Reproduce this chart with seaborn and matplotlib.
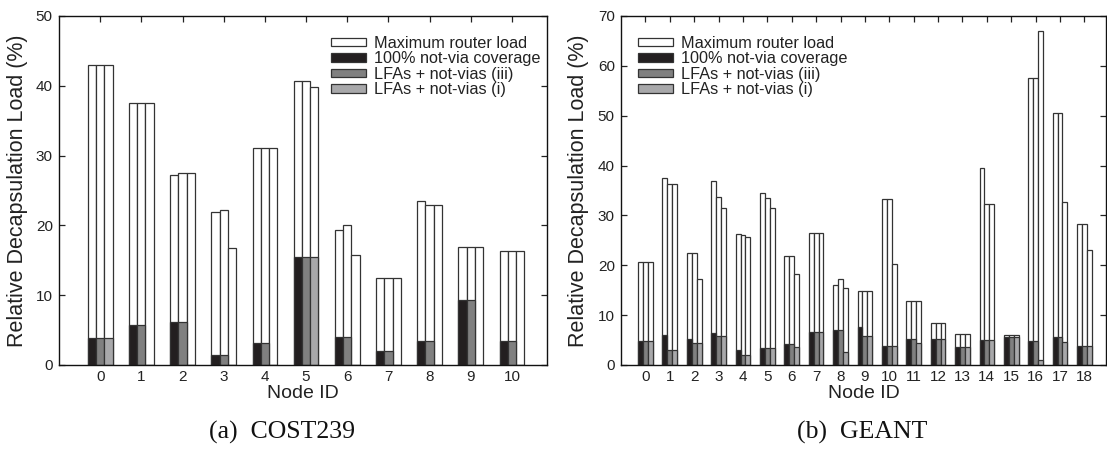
import matplotlib
matplotlib.use("Agg")
import matplotlib.pyplot as plt
from matplotlib.patches import Patch
import seaborn as sns
import pandas as pd

# ---- data -------------------------------------------------------------
series = ["100% not-via coverage", "LFAs + not-vias (iii)", "LFAs + not-vias (i)"]
fill_colors = ["#231f20", "#808080", "#a8a8aa"]

cost_nodes = [str(i) for i in range(11)]
cost_max_nv = [43.0, 37.6, 27.2, 21.9, 31.1, 40.7, 19.4, 12.5, 23.5, 16.95, 16.3]
cost_max_iii = [43.0, 37.6, 27.5, 22.2, 31.1, 40.7, 20.0, 12.5, 22.9, 16.95, 16.3]
cost_max_i = [43.0, 37.6, 27.5, 16.8, 31.1, 39.8, 15.8, 12.5, 22.9, 16.95, 16.3]
cost_dec_nv = [3.8, 5.7, 6.2, 1.5, 3.1, 15.4, 4.0, 2.0, 3.5, 9.3, 3.5]
cost_dec_iii = [3.8, 5.7, 6.2, 1.5, 3.1, 15.4, 4.0, 2.0, 3.5, 9.3, 3.5]
cost_dec_i = [3.8, 0, 0, 0, 0, 15.4, 0, 0, 0, 0, 0]

geant_nodes = [str(i) for i in range(19)]
geant_max_nv = [20.7, 37.6, 22.5, 36.9, 26.2, 34.5, 21.9, 26.5, 16.1, 14.8,
                33.3, 12.85, 8.5, 6.2, 39.6, 6.1, 57.6, 50.6, 28.2]
geant_max_iii = [20.7, 36.4, 22.5, 33.6, 26.1, 33.4, 21.9, 26.5, 17.3, 14.8,
                 33.3, 12.85, 8.5, 6.2, 32.2, 6.1, 57.6, 50.6, 28.2]
geant_max_i = [20.7, 36.3, 17.2, 31.4, 25.6, 31.5, 18.2, 26.4, 15.5, 14.8,
               20.2, 12.85, 8.5, 6.2, 32.2, 6.1, 67.0, 32.7, 23.0]
geant_dec_nv = [4.9, 6.0, 5.15, 6.4, 3.1, 3.35, 4.15, 6.6, 6.95, 7.6,
                3.9, 5.3, 5.15, 3.55, 4.95, 5.6, 4.8, 5.6, 3.9]
geant_dec_iii = [4.75, 3.1, 4.5, 5.9, 2.1, 3.35, 4.15, 6.55, 6.95, 5.75,
                 3.9, 5.3, 5.15, 3.55, 4.95, 5.55, 4.8, 5.6, 3.9]
geant_dec_i = [4.75, 3.1, 4.5, 5.9, 2.1, 3.35, 3.6, 6.55, 2.7, 5.75,
               3.9, 4.5, 5.15, 3.55, 4.95, 5.55, 1.1, 4.55, 3.9]


def long_form(nodes, a, b, c):
    rows = []
    for s, vals in zip(series, (a, b, c)):
        for n, v in zip(nodes, vals):
            rows.append({"node": n, "series": s, "value": v})
    return pd.DataFrame(rows)


# ---- style ------------------------------------------------------------
sns.set_style("ticks")
plt.rcParams["font.family"] = ["Liberation Sans", "DejaVu Sans"]
plt.rcParams["axes.linewidth"] = 1.0
plt.rcParams["text.color"] = "#222222"
plt.rcParams["axes.labelcolor"] = "#222222"
plt.rcParams["xtick.color"] = "#222222"
plt.rcParams["ytick.color"] = "#222222"

EDGE = "#333333"
LW = 0.9

fig = plt.figure(figsize=(11.07, 4.49), dpi=100)
ax1 = fig.add_axes([0.0533, 0.1871, 0.4408, 0.7773])
ax2 = fig.add_axes([0.5610, 0.1871, 0.4380, 0.7773])

panels = [
    (ax1, cost_nodes, (cost_max_nv, cost_max_iii, cost_max_i),
     (cost_dec_nv, cost_dec_iii, cost_dec_i), 50, (-1.0, 10.85), "(a)  COST239",
     (0.557, 0.943), (-0.0635, -0.056), 282),
    (ax2, geant_nodes, (geant_max_nv, geant_max_iii, geant_max_i),
     (geant_dec_nv, geant_dec_iii, geant_dec_i), 70, (-1.0, 18.88), "(b)  GEANT",
     (0.035, 0.943), (-0.066, -0.056), 862),
]

for ax, nodes, maxes, decs, ytop, xlim, caption, leg_xy, lab_xy, cap_x in panels:
    df_max = long_form(nodes, *maxes)
    df_dec = long_form(nodes, *decs)
    # white bars: maximum router load
    sns.barplot(data=df_max, x="node", y="value", hue="series", order=nodes,
                hue_order=series, palette=["white"] * 3, saturation=1,
                width=0.6, dodge=True, errorbar=None, edgecolor=EDGE,
                linewidth=LW, legend=False, ax=ax)
    # filled bars: decapsulation load
    sns.barplot(data=df_dec, x="node", y="value", hue="series", order=nodes,
                hue_order=series, palette=fill_colors, saturation=1,
                width=0.6, dodge=True, errorbar=None, edgecolor=EDGE,
                linewidth=LW, legend=False, ax=ax)

    ax.set_xlim(*xlim)
    ax.set_ylim(0, ytop)
    ax.set_yticks(range(0, ytop + 1, 10))
    ax.set_axisbelow(True)
    for sp in ax.spines.values():
        sp.set_visible(True)
        sp.set_color("#111111")
        sp.set_zorder(3)
    ax.tick_params(axis="both", which="major", direction="in", length=4.5,
                   width=0.9, top=True, right=True, labelsize=11)
    ax.tick_params(axis="x", pad=3.5)
    ax.tick_params(axis="y", pad=4.5)
    ax.set_xlabel("Node ID", fontsize=14)
    ax.set_ylabel("Relative Decapsulation Load (%)", fontsize=15.5)
    ax.yaxis.set_label_coords(lab_xy[0], 0.5)
    ax.xaxis.set_label_coords(0.5, lab_xy[1])

    handles = [Patch(facecolor="white", edgecolor=EDGE, linewidth=LW,
                     label="Maximum router load")]
    handles += [Patch(facecolor=c, edgecolor=EDGE, linewidth=LW, label=s)
                for c, s in zip(fill_colors, series)]
    ax.legend(handles=handles, loc="upper left", bbox_to_anchor=leg_xy,
              frameon=False, fontsize=11.7, handlelength=2.15,
              handleheight=0.42, handletextpad=0.5, labelspacing=0.03,
              borderpad=0, borderaxespad=0)

    fig.text(cap_x / 1107, 0.037, caption, ha="center", va="center",
             fontsize=18.5, family=["Liberation Serif", "DejaVu Serif"],
             color="#111111")

fig.savefig("out.png", dpi=100)
